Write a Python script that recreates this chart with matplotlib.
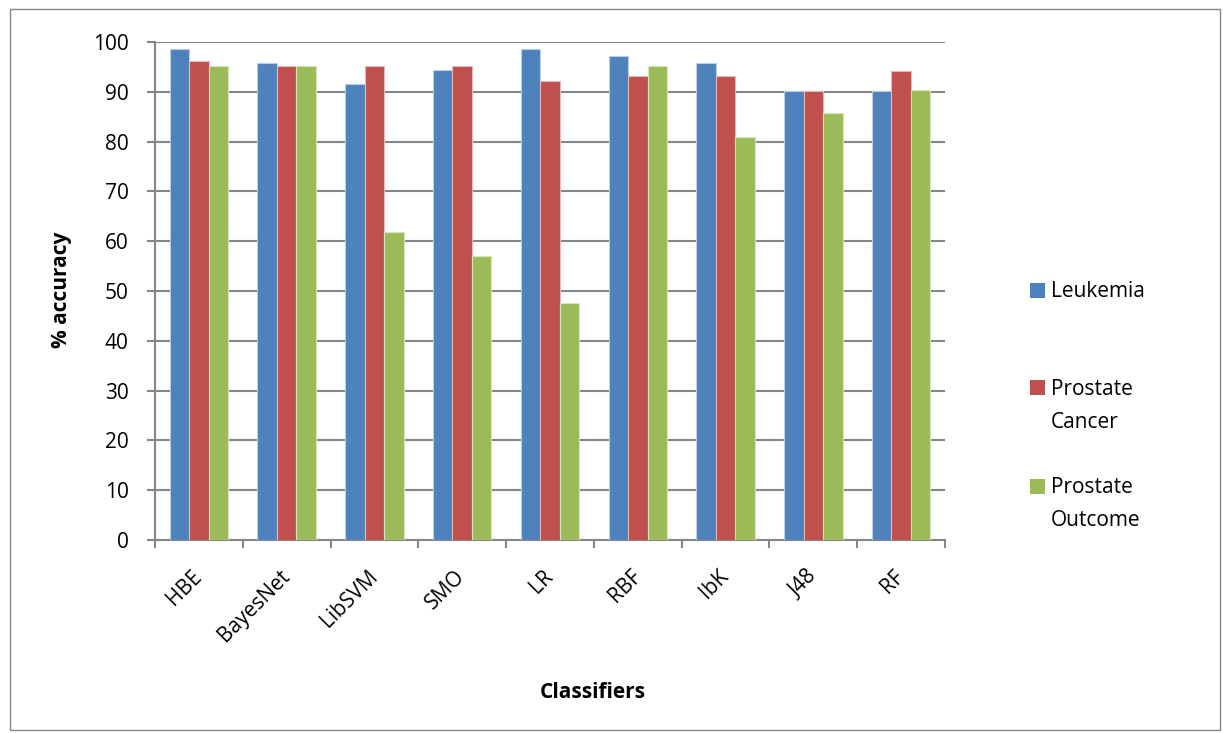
import matplotlib
matplotlib.use("Agg")
import matplotlib.pyplot as plt
import numpy as np
from matplotlib.patches import Rectangle

categories = ["HBE", "BayesNet", "LibSVM", "SMO", "LR", "RBF", "IbK", "J48", "RF"]
leukemia = [98.6, 95.8, 91.6, 94.4, 98.6, 97.2, 95.8, 90.2, 90.2]
prostate_cancer = [96.1, 95.1, 95.1, 95.1, 92.2, 93.1, 93.1, 90.2, 94.1]
prostate_outcome = [95.2, 95.2, 61.9, 57.1, 47.6, 95.2, 80.9, 85.7, 90.4]
series_names = [["Leukemia"], ["Prostate", "Cancer"], ["Prostate", "Outcome"]]
colors = ["#4F81BD", "#C0504D", "#9BBB59"]
edge_colors = ["#B9CDE5", "#E6B9B8", "#D7E4BD"]
yticks = [0, 10, 20, 30, 40, 50, 60, 70, 80, 90, 100]

plt.rcParams['font.family'] = ['Open Sans', 'DejaVu Sans']
FS = 15

W, H = 1223, 733
fig = plt.figure(figsize=(W / 100, H / 100), dpi=100)
ax = fig.add_axes([155 / W, 1 - 540 / H, (945 - 155) / W, (540 - 42) / H])

x = np.arange(len(categories))
bw = 0.222
for i, vals in enumerate([leukemia, prostate_cancer, prostate_outcome]):
    ax.bar(x + (i - 1) * bw, vals, width=bw, color=colors[i],
           edgecolor=edge_colors[i], linewidth=0.8, zorder=3)

ax.set_xlim(-0.5, len(categories) - 0.5)
ax.set_ylim(0, 100)
ax.set_yticks(yticks)
ax.yaxis.grid(True, color="#868686", linewidth=1.5, zorder=0)
ax.set_axisbelow(True)

ax.set_xticks(x)
ax.set_xticklabels(categories, rotation=45, ha='right', va='center',
                   rotation_mode='anchor', fontsize=FS)
ax.tick_params(axis='x', length=0, pad=24)
ax.set_xticks(np.arange(-0.5, len(categories) + 0.5, 1), minor=True)
ax.tick_params(axis='x', which='minor', length=6, width=1.5, color="#868686", direction='out')
ax.tick_params(axis='y', length=6, width=1.5, color="#868686", direction='out',
               labelsize=FS, pad=13)

for s in ['top', 'right']:
    ax.spines[s].set_visible(False)
for s in ['left', 'bottom']:
    ax.spines[s].set_color("#868686")
    ax.spines[s].set_linewidth(1.5)

fig.text(62 / W, 1 - 290 / H, "% accuracy", fontsize=FS, fontweight='bold',
         rotation=90, ha='center', va='center')
fig.text(593 / W, 1 - 693 / H, "Classifiers", fontsize=FS, fontweight='bold',
         ha='center', va='center')

# legend
sq_centers = [290, 388, 486]
baselines = [[297], [395, 428], [493, 526]]
for i, lines in enumerate(series_names):
    fig.patches.append(Rectangle((1030 / W, 1 - (sq_centers[i] + 7.5) / H), 15 / W, 15 / H,
                                 transform=fig.transFigure, facecolor=colors[i],
                                 edgecolor='none'))
    for line, b in zip(lines, baselines[i]):
        fig.text(1051 / W, 1 - b / H, line, fontsize=FS, ha='left', va='baseline')

# outer border
fig.patches.append(Rectangle((10 / W, 1 - 730 / H), 1210 / W, 721 / H,
                             transform=fig.transFigure, facecolor='none',
                             edgecolor="#868686", linewidth=1.0))

fig.savefig("out.png", dpi=100)
